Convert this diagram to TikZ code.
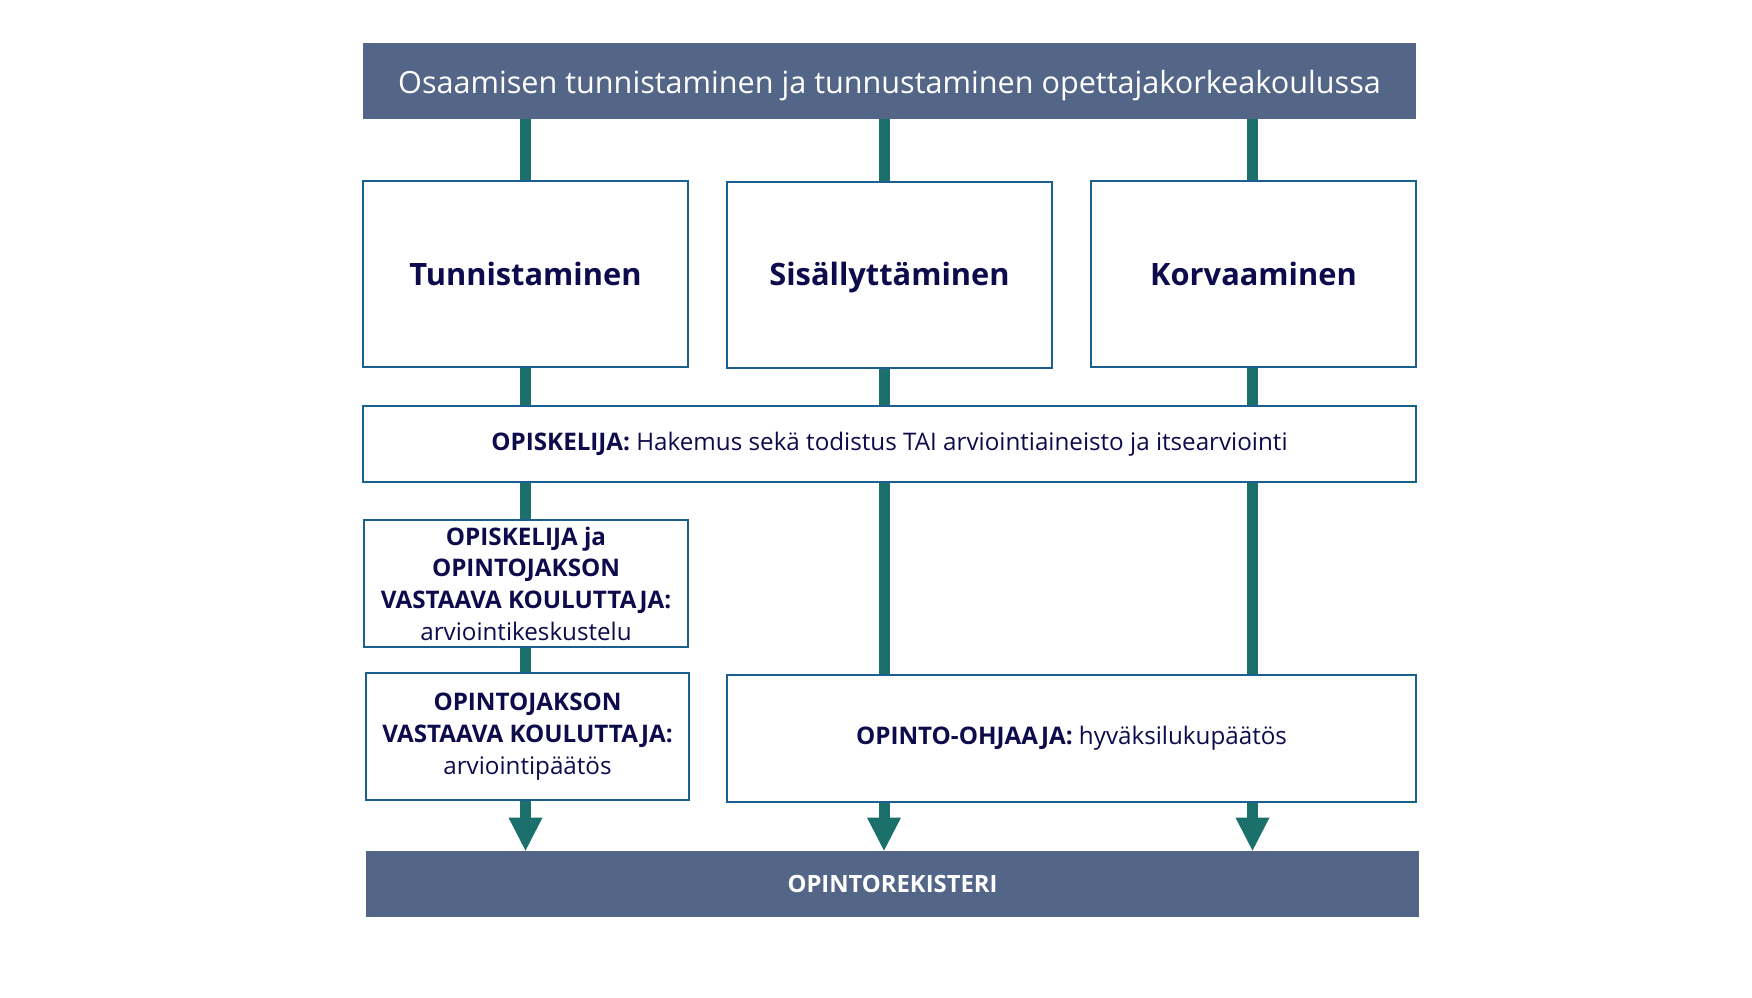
\documentclass[tikz,border=0pt]{standalone}
\usepackage{fontspec}
\setmainfont{Open Sans}
\usetikzlibrary{arrows.meta}
\definecolor{barblue}{HTML}{546687}
\definecolor{boxline}{HTML}{1B5F8F}
\definecolor{linkteal}{HTML}{1B706C}
\definecolor{inkblue}{HTML}{0E0B4C}

\begin{document}
\begin{tikzpicture}[
	x=0.5pt, y=-0.5pt,
	bar/.style={fill=barblue, text=white, inner sep=0pt, minimum width=526.5pt},
	box/.style={draw=boxline, line width=1pt, fill=white, text=inkblue, inner sep=0pt,
		align=center, font=\fontsize{12.1}{15.85}\selectfont},
	head/.style={font=\fontsize{15.4}{18}\selectfont\bfseries, text height=11pt, text depth=0pt},
	link/.style={draw=linkteal, line width=5.5pt},
	arrow/.style={link, -{Triangle[width=17pt, length=16.5pt, line width=0pt]}}]
\useasboundingbox (0,0) rectangle (1752,997);
\node[bar, minimum height=38pt, text height=12pt, text depth=0pt,
	font=\fontsize{15.3}{19}\selectfont] (title) at (889.5,81)
	{Osaamisen tunnistaminen ja tunnustaminen opettajakorkeakoulussa};
\node[box, head, minimum width=162.5pt, minimum height=93pt] (tun) at (525.5,274) {Tunnistaminen};
\node[box, head, minimum width=162.5pt, minimum height=93pt] (sis) at (889.5,274.5) {Sisällyttäminen};
\node[box, head, minimum width=162.5pt, minimum height=93pt] (kor) at (1253.5,274) {Korvaaminen};
\node[box, minimum width=526.5pt, minimum height=38pt] (opis) at (889.5,444)
	{\textbf{OPISKELIJA:} Hakemus sekä todistus TAI arviointiaineisto ja itsearviointi};
\node[box, minimum width=162pt, minimum height=63.5pt] (keskus) at (526,583.5)
	{\textbf{OPISKELIJA ja}\\\textbf{OPINTOJAKSON}\\\textbf{VASTAAVA KOULUTTAJA:}\\arviointikeskustelu};
\node[box, minimum width=161.5pt, minimum height=63.5pt] (paatos) at (527.5,736.5)
	{\textbf{OPINTOJAKSON}\\\textbf{VASTAAVA KOULUTTAJA:}\\arviointipäätös};
\node[box, minimum width=344.5pt, minimum height=63.5pt] (opo) at (1071.5,738.5)
	{\textbf{OPINTO-OHJAAJA:} hyväksilukupäätös};
\node[bar, minimum height=33pt, font=\fontsize{11.9}{14}\selectfont\bfseries] (rek) at (892.5,884)
	{OPINTOREKISTERI};

% left column
\draw[link] (tun.north |- title.south) -- (tun.north);
\draw[link] (tun.south) -- (tun.south |- opis.north);
\draw[link] (tun.south |- opis.south) -- (tun.south |- keskus.north);
\draw[link] (tun.south |- keskus.south) -- (tun.south |- paatos.north);
\draw[arrow] (tun.south |- paatos.south) -- (tun.south |- rek.north);
% middle and right columns
\foreach \col/\dx in {sis/-2.75pt,kor/-0.5pt}{
	\coordinate (c\col) at ([xshift=\dx]\col.center);
	\draw[link] (c\col |- title.south) -- (c\col |- \col.north);
	\draw[link] (c\col |- \col.south) -- (c\col |- opis.north);
	\draw[link] (c\col |- opis.south) -- (c\col |- opo.north);
	\draw[arrow] (c\col |- opo.south) -- (c\col |- rek.north);
}
\end{tikzpicture}
\end{document}
